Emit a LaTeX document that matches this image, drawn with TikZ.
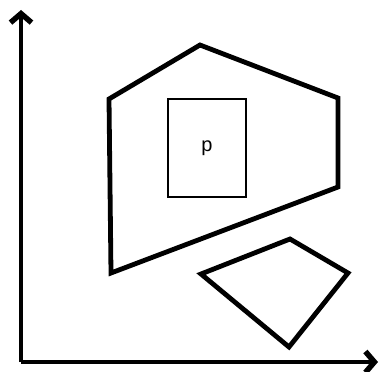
\documentclass[tikz,border=0pt]{standalone}
\usepackage{fontspec}
\setmainfont{Liberation Sans}
\usetikzlibrary{arrows.meta}
\begin{document}
\begin{tikzpicture}[x=1pt,y=-1pt,
  axis/.style={line width=3.5pt,-{Straight Barb[length=9pt,width=21pt,line width=5.5pt]}},
  poly/.style={line width=4.8pt,line join=miter},
  box/.style={draw,line width=1.2pt,minimum width=78pt,minimum height=98pt,inner sep=0pt,font=\fontsize{20}{22}\selectfont}]
\useasboundingbox (0,0) rectangle (381,372);
\coordinate (o) at (21,362);
\coordinate (ytip) at (21,10);
\coordinate (xtip) at (378,362);
\draw[axis] (o) -- (ytip);
\draw[axis] (o) -- (xtip);
\coordinate (a1) at (200,45);
\coordinate (a2) at (338,98);
\coordinate (a3) at (338,187);
\coordinate (a4) at (111,273);
\coordinate (a5) at (109,99);
\draw[poly] (a1) -- (a2) -- (a3) -- (a4) -- (a5) -- cycle;
\node[box] (p) at (207,148) {p};
\coordinate (b1) at (201,274);
\coordinate (b2) at (290,239);
\coordinate (b3) at (348,273);
\coordinate (b4) at (289,347);
\draw[poly] (b1) -- (b2) -- (b3) -- (b4) -- cycle;
\end{tikzpicture}
\end{document}
